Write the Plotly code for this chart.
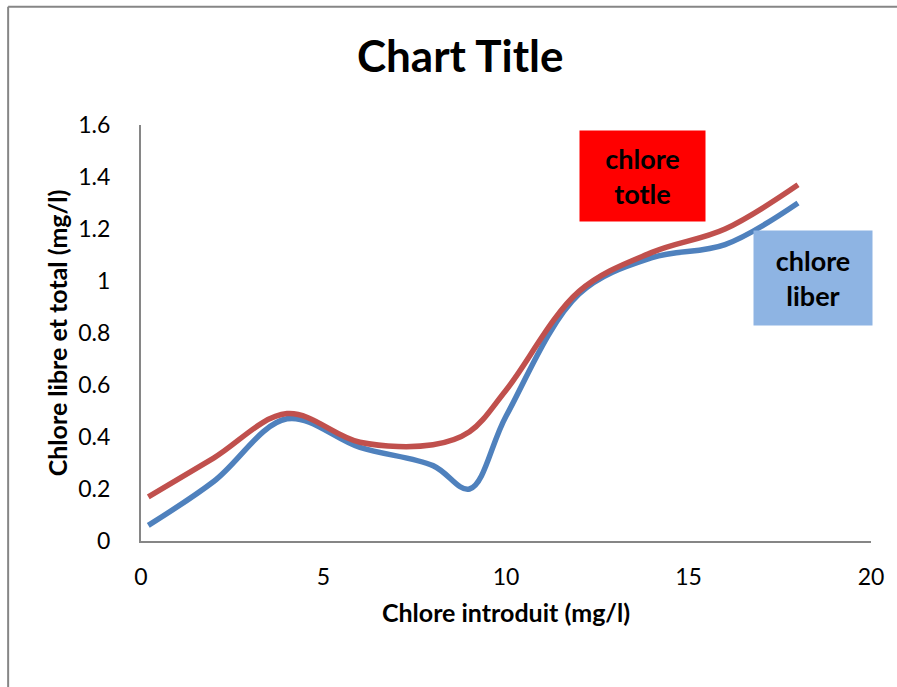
import plotly.graph_objects as go

x_vals = [0.2, 2, 4, 6, 8, 9, 10, 12, 14, 16, 18]
chlore_libre = [0.06, 0.23, 0.47, 0.36, 0.29, 0.20, 0.48, 0.95, 1.09, 1.14, 1.30]
chlore_total = [0.17, 0.32, 0.49, 0.38, 0.37, 0.42, 0.58, 0.96, 1.11, 1.20, 1.37]

y_ticks = [0, 0.2, 0.4, 0.6, 0.8, 1, 1.2, 1.4, 1.6]
y_tick_labels = ["0", "0.2", "0.4", "0.6", "0.8", "1", "1.2", "1.4", "1.6"]
x_ticks = [0, 5, 10, 15, 20]

FONT = "Lato"

fig = go.Figure()
fig.add_trace(go.Scatter(x=x_vals, y=chlore_libre, mode="lines", name="chlore liber",
                         line=dict(color="#4F81BD", width=5.5, shape="spline", smoothing=1)))
fig.add_trace(go.Scatter(x=x_vals, y=chlore_total, mode="lines", name="chlore totle",
                         line=dict(color="#C0504D", width=5.5, shape="spline", smoothing=1)))

fig.update_layout(
    width=897, height=687,
    margin=dict(l=141, r=26, t=125, b=146),
    paper_bgcolor="white", plot_bgcolor="white",
    showlegend=False,
    font=dict(family=FONT, color="black"),
    title=dict(text="<b>Chart Title</b>", x=0.513, xanchor="center", y=0.917, yanchor="middle",
               font=dict(size=44, family=FONT, color="black")),
)
fig.update_xaxes(range=[0, 20], tickvals=x_ticks, showgrid=False, zeroline=False,
                 showline=True, linecolor="#868686", linewidth=2, ticks="",
                 tickfont=dict(size=23, family=FONT), ticklabelstandoff=14,
                 title=dict(text="<b>Chlore introduit (mg/l)</b>",
                            font=dict(size=25, family=FONT), standoff=16))
fig.update_yaxes(range=[0, 1.6], tickvals=y_ticks, ticktext=y_tick_labels, showgrid=False,
                 zeroline=False, showline=True, linecolor="#868686", linewidth=2, ticks="",
                 tickfont=dict(size=23, family=FONT), ticklabelstandoff=24,
                 title=dict(text="<b>Chlore libre et total (mg/l)</b>",
                            font=dict(size=25, family=FONT), standoff=4))

fig.add_annotation(x=13.75, y=1.403, xref="x", yref="y", text="<b>chlore<br>totle</b>",
                   showarrow=False, bgcolor="#FF0000", width=123, height=88,
                   font=dict(size=27, family=FONT, color="black"))
fig.add_annotation(x=18.41, y=1.01, xref="x", yref="y", text="<b>chlore<br>liber</b>",
                   showarrow=False, bgcolor="#8EB4E3", width=116, height=92,
                   font=dict(size=27, family=FONT, color="black"))

# outer chart frame (left and top edges visible)
fig.add_shape(type="line", xref="paper", yref="paper", x0=-0.182, x1=-0.182, y0=-0.5, y1=1.284,
              line=dict(color="#868686", width=2))
fig.add_shape(type="line", xref="paper", yref="paper", x0=-0.182, x1=1.1, y0=1.284, y1=1.284,
              line=dict(color="#868686", width=2))

fig.write_html("out.html", config={"displayModeBar": False},
               post_script="document.body.style.margin='0';document.body.style.overflow='hidden';")
